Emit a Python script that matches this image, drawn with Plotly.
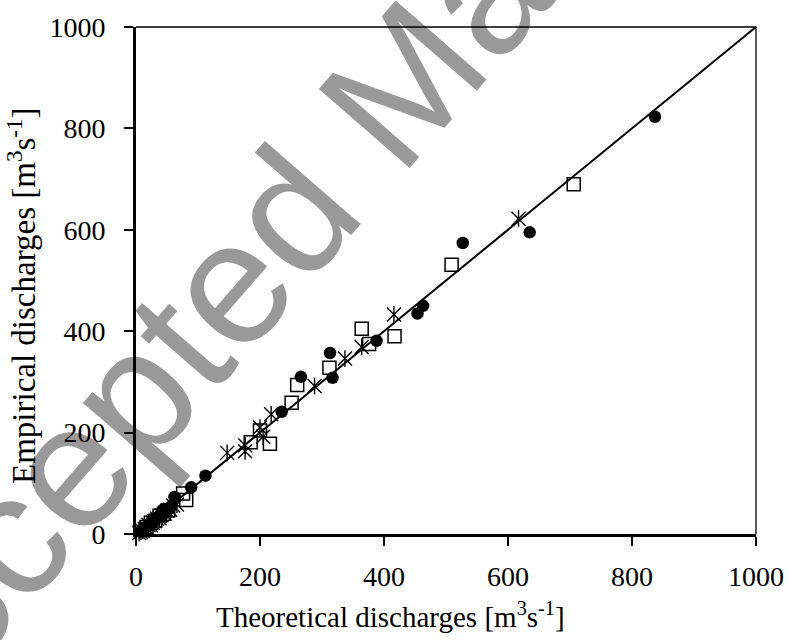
import plotly.graph_objects as go

# Theoretical vs empirical discharges [m3/s], three groups of stations
circle_theor = [837, 635, 527, 463, 454, 388, 313, 317, 266, 235, 112, 89, 62,
                57, 52, 47, 44, 40, 36, 33, 29, 25, 21, 18, 14, 10, 7]
circle_emp = [823, 595, 574, 450, 435, 381, 357, 308, 310, 241, 115, 92, 73,
              55, 49, 44, 48, 38, 34, 31, 28, 22, 20, 15, 12, 9, 5]

square_theor = [706, 509, 364, 417, 376, 312, 260, 251, 200, 216, 185, 76, 81,
                52, 45, 38, 31, 24, 17]
square_emp = [690, 531, 405, 390, 375, 328, 294, 259, 204, 178, 181, 80, 67,
              47, 40, 36, 26, 22, 14]

star_theor = [617, 416, 364, 337, 288, 218, 200, 205, 176, 176, 147,
              66, 60, 55, 50, 46, 41, 38, 34, 30, 27, 24, 20, 17, 14, 11, 8, 5]
star_emp = [622, 433, 369, 346, 292, 236, 210, 192, 175, 163, 160,
            58, 56, 48, 46, 40, 37, 31, 30, 25, 22, 17, 18, 12, 10, 6, 4, 2]

# 1:1 reference line
line_x = [0, 1000]
line_y = [0, 1000]

axis_ticks = [0, 200, 400, 600, 800, 1000]

SERIF = "Liberation Serif"
INK = "black"

fig = go.Figure()

fig.add_trace(go.Scatter(x=line_x, y=line_y, mode="lines",
                         line=dict(color=INK, width=2), cliponaxis=False,
                         showlegend=False))

fig.add_trace(go.Scatter(x=circle_theor, y=circle_emp, mode="markers",
                         marker=dict(symbol="circle", size=12.5, color=INK,
                                     line=dict(width=0)),
                         cliponaxis=False, showlegend=False))

fig.add_trace(go.Scatter(x=square_theor, y=square_emp, mode="markers",
                         marker=dict(symbol="square-open", size=13, color=INK,
                                     line=dict(color=INK, width=1.5)),
                         cliponaxis=False, showlegend=False))

# six-armed asterisk: diagonal cross plus vertical bar
fig.add_trace(go.Scatter(x=star_theor, y=star_emp, mode="markers",
                         marker=dict(symbol="x-thin-open", size=14, color=INK,
                                     line=dict(color=INK, width=1.4)),
                         cliponaxis=False, showlegend=False))
fig.add_trace(go.Scatter(x=star_theor, y=star_emp, mode="markers",
                         marker=dict(symbol="line-ns-open", size=12, color=INK,
                                     line=dict(color=INK, width=1.4)),
                         cliponaxis=False, showlegend=False))

axis_common = dict(
    range=[0, 1000], tickvals=axis_ticks, ticktext=[str(v) for v in axis_ticks],
    showgrid=False, zeroline=False, showline=True, linecolor=INK, linewidth=3,
    ticks="outside", ticklen=9, tickwidth=2, tickcolor=INK,
    tickfont=dict(family=SERIF, size=28, color=INK),
)

fig.update_xaxes(**axis_common, ticklabelstandoff=6)
fig.update_yaxes(**axis_common, ticklabelstandoff=13)

# thin frame on the top and right sides
fig.add_shape(type="line", xref="paper", yref="paper", x0=0, x1=1, y0=1, y1=1,
              line=dict(color=INK, width=1.3))
fig.add_shape(type="line", xref="paper", yref="paper", x0=1, x1=1, y0=0, y1=1,
              line=dict(color=INK, width=1.3))

fig.add_annotation(text="Theoretical discharges [m<sup>3</sup>s<sup>-1</sup>]",
                   xref="paper", yref="paper", x=0.41, y=-0.16,
                   xanchor="center", yanchor="middle", showarrow=False,
                   font=dict(family=SERIF, size=29, color=INK))
fig.add_annotation(text="Empirical discharges [m<sup>3</sup>s<sup>-1</sup>]",
                   xref="paper", yref="paper", x=-0.185, y=0.47,
                   xanchor="center", yanchor="middle", textangle=-90,
                   showarrow=False,
                   font=dict(family=SERIF, size=33, color=INK))

# translucent diagonal stamp
fig.add_annotation(text="Accepted Manuscript", xref="paper", yref="paper",
                   x=0.394, y=0.837, xanchor="center", yanchor="middle",
                   textangle=-49, showarrow=False,
                   font=dict(family="Liberation Sans", size=175,
                             color="rgba(0,0,0,0.4)"))

fig.update_layout(
    width=796, height=640,
    margin=dict(l=136, r=33, t=24, b=106, pad=0),
    paper_bgcolor="white", plot_bgcolor="white",
    showlegend=False,
)

fig.write_html("out.html")
